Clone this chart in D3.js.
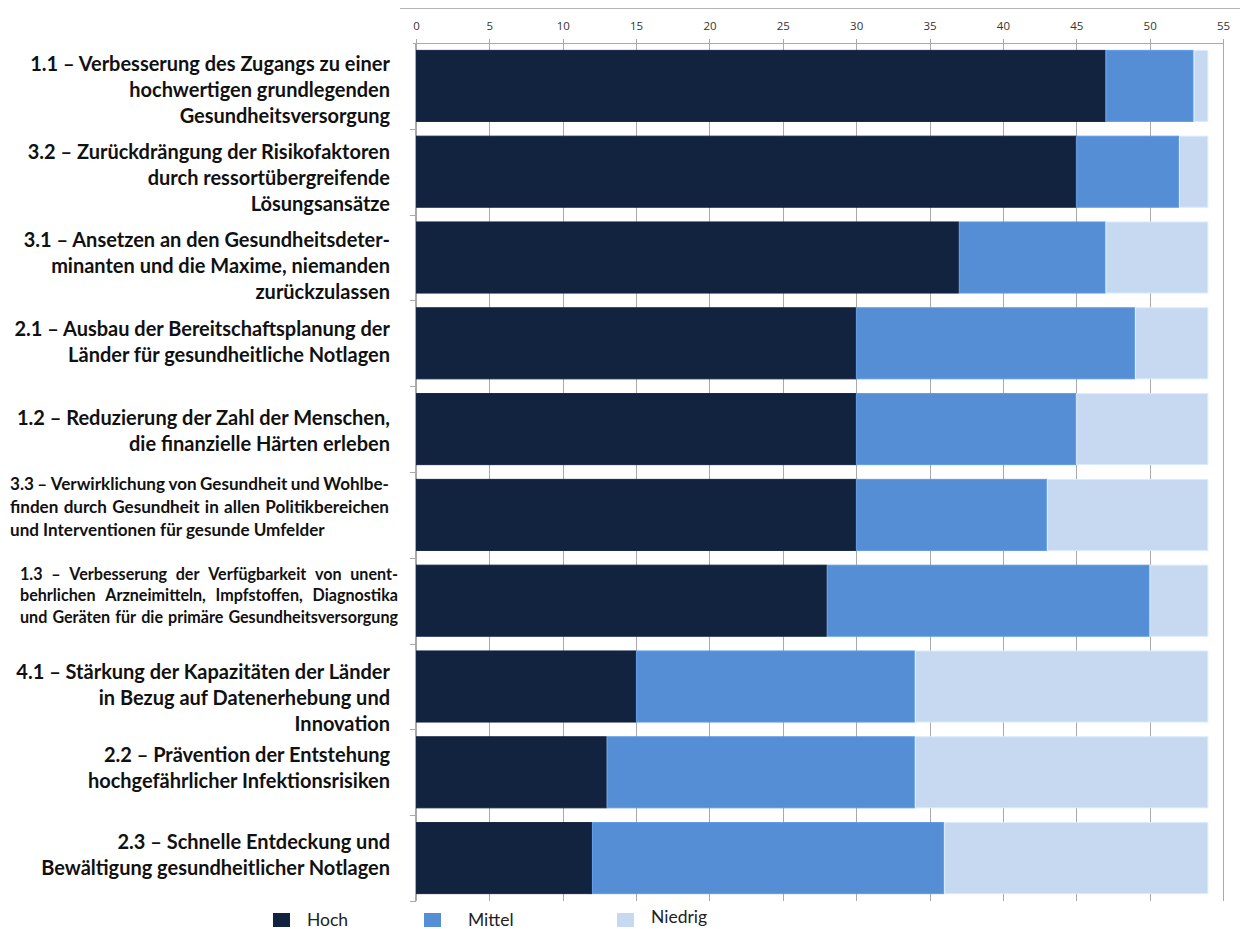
<!DOCTYPE html>
<html>
<head>
<meta charset="utf-8">
<script src="https://cdn.jsdelivr.net/npm/d3@7"></script>
<style>
  body { margin: 0; background: #fff; }
  svg { display: block; }
</style>
</head>
<body>
<div id="chart"></div>
<script>
// data
const categories = [
  ["1.1 – Verbesserung des Zugangs zu einer", "hochwertigen grundlegenden", "Gesundheitsversorgung"],
  ["3.2 – Zurückdrängung der Risikofaktoren", "durch ressortübergreifende", "Lösungsansätze"],
  ["3.1 – Ansetzen an den Gesundheitsdeter-", "minanten und die Maxime, niemanden", "zurückzulassen"],
  ["2.1 – Ausbau der Bereitschaftsplanung der", "Länder für gesundheitliche Notlagen"],
  ["1.2 – Reduzierung der Zahl der Menschen,", "die finanzielle Härten erleben"],
  ["3.3 – Verwirklichung von Gesundheit und Wohlbe-", "finden durch Gesundheit in allen Politikbereichen", "und Interventionen für gesunde Umfelder"],
  ["1.3 – Verbesserung der Verfügbarkeit von unent-", "behrlichen Arzneimitteln, Impfstoffen, Diagnostika", "und Geräten für die primäre Gesundheitsversorgung"],
  ["4.1 – Stärkung der Kapazitäten der Länder", "in Bezug auf Datenerhebung und", "Innovation"],
  ["2.2 – Prävention der Entstehung", "hochgefährlicher Infektionsrisiken"],
  ["2.3 – Schnelle Entdeckung und", "Bewältigung gesundheitlicher Notlagen"]
];
const hoch    = [47, 45, 37, 30, 30, 30, 28, 15, 13, 12];
const mittel  = [6, 7, 10, 19, 15, 13, 22, 19, 21, 24];
const niedrig = [1, 2, 7, 5, 9, 11, 4, 20, 20, 18];
const seriesNames = ["Hoch", "Mittel", "Niedrig"];
const tickValues = [0, 5, 10, 15, 20, 25, 30, 35, 40, 45, 50, 55];

// layout
const width = 1240, height = 929;
const colors = d3.scaleOrdinal().domain(seriesNames).range(["#12233f", "#558ed5", "#c6d9f1"]);
// small vertical nudges of the row labels, as in the original
const labelShift = [5, 7, 9, -1, 2, -8, -5, 12, -4, -3];
const labelFont = "Lato, 'Open Sans', sans-serif";

let svg = d3.select("#chart").append("svg")
  .attr("width", width)
  .attr("height", height);

let x = d3.scaleLinear().domain([0, 55]).range([416, 1223]);
let y = d3.scaleBand().domain(d3.range(categories.length)).range([43, 901])
  .paddingInner(0.16).paddingOuter(0.08);

let rows = categories.map(function (c, i) {
  return { i: i, Hoch: hoch[i], Mittel: mittel[i], Niedrig: niedrig[i] };
});
let stacked = d3.stack().keys(seriesNames)(rows);

// frame line on top
svg.append("line")
  .attr("x1", 400).attr("x2", 1240).attr("y1", 8.5).attr("y2", 8.5)
  .attr("stroke", "#b4b4b4");

// gridlines (they also form the little ticks above the axis)
svg.append("g").selectAll("line")
  .data(tickValues)
  .enter().append("line")
  .attr("x1", function (d) { return Math.round(x(d)) + 0.5; })
  .attr("x2", function (d) { return Math.round(x(d)) + 0.5; })
  .attr("y1", 39).attr("y2", 901)
  .attr("stroke", "#a9a9a9");

// top axis
let xAxis = svg.append("g")
  .attr("transform", "translate(0,43.5)")
  .call(d3.axisTop(x).tickValues(tickValues).tickSize(0).tickPadding(14));
xAxis.select(".domain").attr("stroke", "#a9a9a9").attr("d", "M413,0H1223");
xAxis.selectAll("text")
  .style("font-family", "'Open Sans', sans-serif")
  .style("font-size", "11.5px")
  .attr("fill", "#333");

// left axis line and ticks between the bands
svg.append("line")
  .attr("x1", 415.5).attr("x2", 415.5).attr("y1", 43).attr("y2", 901)
  .attr("stroke", "#a9a9a9");
svg.append("g").selectAll("line")
  .data(d3.range(1, categories.length + 1))
  .enter().append("line")
  .attr("x1", 410).attr("x2", 416)
  .attr("y1", function (d) { return Math.round(y.range()[0] + d * y.step()) + 0.5; })
  .attr("y2", function (d) { return Math.round(y.range()[0] + d * y.step()) + 0.5; })
  .attr("stroke", "#a9a9a9");

// bars
svg.append("g").selectAll("g")
  .data(stacked)
  .enter().append("g")
  .attr("fill", function (d) { return colors(d.key); })
  .attr("stroke", function (d) { return d3.color(colors(d.key)).brighter(0.25); })
  .attr("stroke-width", 1)
  .selectAll("rect")
  .data(function (d) { return d; })
  .enter().append("rect")
  .attr("x", function (d) { return x(d[0]) + 0.5; })
  .attr("y", function (d) { return y(d.data.i) + 0.5; })
  .attr("width", function (d) { return x(d[1]) - x(d[0]) - 1; })
  .attr("height", y.bandwidth() - 1);

// row labels
let labelG = svg.append("g")
  .style("font-family", labelFont)
  .style("font-weight", "bold")
  .attr("fill", "#111");

function measure(text, size) {
  let t = labelG.append("text").style("font-size", size + "px").text(text);
  let w = t.node().getComputedTextLength();
  t.remove();
  return w;
}

// pick font sizes so the lines are as wide as in the original
let bigSize = 20 * 360 / measure(categories[0][0], 20);
let small = {
  5: { lh: 23, left: 10, right: 389, justifyLast: false },
  6: { lh: 21.5, left: 20, right: 398, justifyLast: true }
};
small[5].size = 16 * 315 / measure(categories[5][2], 16);
small[6].size = 16 * 372 / measure(categories[6][2], 16);

function justifyLine(g, text, left, right, yPos, size) {
  let words = text.split(" ");
  let widths = words.map(function (w) { return measure(w, size); });
  let gap = (right - left - d3.sum(widths)) / (words.length - 1);
  let cx = left;
  words.forEach(function (w, k) {
    g.append("text")
      .attr("x", cx).attr("y", yPos)
      .style("font-size", size + "px")
      .text(w);
    cx += widths[k] + gap;
  });
}

categories.forEach(function (lines, i) {
  let center = y(i) + y.bandwidth() / 2 + labelShift[i];
  if (small[i]) {
    let s = small[i];
    lines.forEach(function (line, k) {
      let base = center + (k - (lines.length - 1) / 2) * s.lh + s.size * 0.33;
      if (k < lines.length - 1 || s.justifyLast) {
        justifyLine(labelG, line, s.left, s.right, base, s.size);
      } else {
        labelG.append("text").attr("x", s.left).attr("y", base)
          .style("font-size", s.size + "px").text(line);
      }
    });
  } else {
    let lh = 26;
    lines.forEach(function (line, k) {
      labelG.append("text")
        .attr("x", 390)
        .attr("y", center + (k - (lines.length - 1) / 2) * lh + bigSize * 0.33)
        .attr("text-anchor", "end")
        .style("font-size", bigSize + "px")
        .text(line);
    });
  }
});

// legend
let legendX = [273, 424, 617];
let legend = svg.append("g").selectAll("g")
  .data(seriesNames)
  .enter().append("g")
  .attr("transform", function (d, i) { return "translate(" + legendX[i] + ",913)"; });
legend.append("rect")
  .attr("width", 17).attr("height", 14)
  .attr("fill", function (d) { return colors(d); });
legend.append("text")
  .attr("x", function (d, i) { return [34, 44, 34][i]; })
  .attr("y", function (d, i) { return i === 2 ? 10 : 13; })
  .style("font-family", labelFont)
  .style("font-size", "17.5px")
  .attr("fill", "#222")
  .text(function (d) { return d; });
</script>
</body>
</html>
